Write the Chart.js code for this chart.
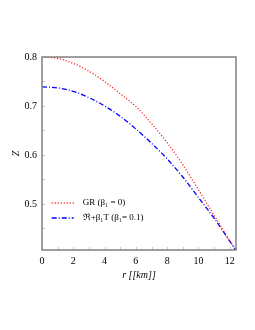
<!DOCTYPE html>
<html><head><meta charset="utf-8">
<script src="https://cdn.jsdelivr.net/npm/chart.js@4"></script>
<style>html,body{margin:0;padding:0;background:#fff}#wrap{width:255px;height:330px}</style>
</head><body><div id="wrap"><canvas id="c" width="255" height="330"></canvas></div>
<script>
const rValues = [0, 1, 2, 3, 4, 5, 6, 7, 8, 9, 10, 11, 12, 12.4];
const zGR = [0.800, 0.797, 0.787, 0.771, 0.750, 0.725, 0.699, 0.664, 0.625, 0.580, 0.529, 0.477, 0.425, 0.405];
const zRT = [0.739, 0.737, 0.730, 0.717, 0.700, 0.679, 0.653, 0.624, 0.592, 0.555, 0.513, 0.471, 0.424, 0.405];
const seriesLabels = ['  GR (β₁ = 0)', '  ℜ+β₁T (β₁= 0.1)'];
const xTicks = [0, 2, 4, 6, 8, 10, 12];
const yTicks = [0.5, 0.6, 0.7, 0.8];
const xMinor = [0, 1, 2, 3, 4, 5, 6, 7, 8, 9, 10, 11, 12];
const yMinor = [0.45, 0.5, 0.55, 0.6, 0.65, 0.7, 0.75];

const serif = 'Liberation Serif';

const framePlugin = {
  id: 'frame',
  afterLayout(chart) {
    const lg = chart.legend;
    const a = chart.chartArea;
    if (lg) {
      lg.left = a.left + 3.7;
      lg.right = a.right;
      lg.top = 192.5;
      lg.bottom = a.bottom;
    }
  },
  afterDatasetsDraw(chart) {
    const {ctx, chartArea: a, scales: {x, y}} = chart;
    ctx.save();
    ctx.strokeStyle = '#c8c8c8';
    ctx.lineWidth = 1;
    ctx.beginPath();
    xMinor.forEach(v => {
      const px = Math.round(x.getPixelForValue(v)) + 0.5;
      ctx.moveTo(px, a.bottom); ctx.lineTo(px, a.bottom - 3);
    });
    yMinor.forEach(v => {
      const py = Math.round(y.getPixelForValue(v)) + 0.5;
      ctx.moveTo(a.left, py); ctx.lineTo(a.left + 3, py);
    });
    ctx.stroke();
    ctx.strokeStyle = '#808080';
    ctx.lineWidth = 1.5;
    ctx.strokeRect(a.left, a.top, a.right - a.left, a.bottom - a.top);
    ctx.restore();
  }
};

new Chart(document.getElementById('c'), {
  type: 'line',
  data: {
    datasets: [
      {
        label: seriesLabels[0],
        data: rValues.map((r, i) => ({x: r, y: zGR[i]})),
        borderColor: '#ff0000',
        borderWidth: 1.3,
        borderDash: [1, 2],
        pointRadius: 0,
        fill: false,
        cubicInterpolationMode: 'monotone'
      },
      {
        label: seriesLabels[1],
        data: rValues.map((r, i) => ({x: r, y: zRT[i]})),
        borderColor: '#0000ff',
        borderWidth: 1.3,
        borderDash: [5, 2, 1, 2],
        pointRadius: 0,
        fill: false,
        cubicInterpolationMode: 'monotone'
      }
    ]
  },
  options: {
    responsive: false,
    animation: false,
    devicePixelRatio: 1,
    layout: {padding: {top: 57, right: 19, left: 0, bottom: 40}},
    plugins: {
      legend: {
        position: 'chartArea',
        align: 'start',
        labels: {
          usePointStyle: true,
          pointStyle: 'line',
          pointStyleWidth: 22,
          padding: 6,
          color: '#000',
          font: {family: serif, size: 9},
          generateLabels: chart => {
            const items = Chart.defaults.plugins.legend.labels.generateLabels(chart);
            items.forEach(it => {
              const ds = chart.data.datasets[it.datasetIndex];
              it.lineDash = ds.borderDash;
              it.strokeStyle = ds.borderColor;
              it.lineWidth = ds.borderWidth;
            });
            return items;
          }
        }
      },
      tooltip: {enabled: false}
    },
    scales: {
      x: {
        type: 'linear',
        min: 0,
        max: 12.4,
        afterBuildTicks: s => { s.ticks = xTicks.map(v => ({value: v})); },
        afterFit: s => { s.height = 40; },
        grid: {display: false, drawTicks: false},
        border: {display: false},
        ticks: {padding: 5, color: '#000', autoSkip: false, maxRotation: 0, font: {family: serif, size: 10}},
        title: {display: true, text: 'r [[km]]', color: '#000', font: {family: serif, size: 10, style: 'italic'}, padding: {top: 0, bottom: 9}}
      },
      y: {
        type: 'linear',
        min: 0.406,
        max: 0.8,
        afterBuildTicks: s => { s.ticks = yTicks.map(v => ({value: v})); },
        afterFit: s => { s.width = 42; },
        grid: {display: false, drawTicks: false},
        border: {display: false},
        ticks: {padding: 5, color: '#000', autoSkip: false, font: {family: serif, size: 10}, callback: v => v.toFixed(1)},
        title: {display: true, text: 'Z', color: '#000', font: {family: serif, size: 10, style: 'italic'}, padding: {top: 10, bottom: 0}}
      }
    }
  },
  plugins: [framePlugin]
});
</script>
</body></html>
